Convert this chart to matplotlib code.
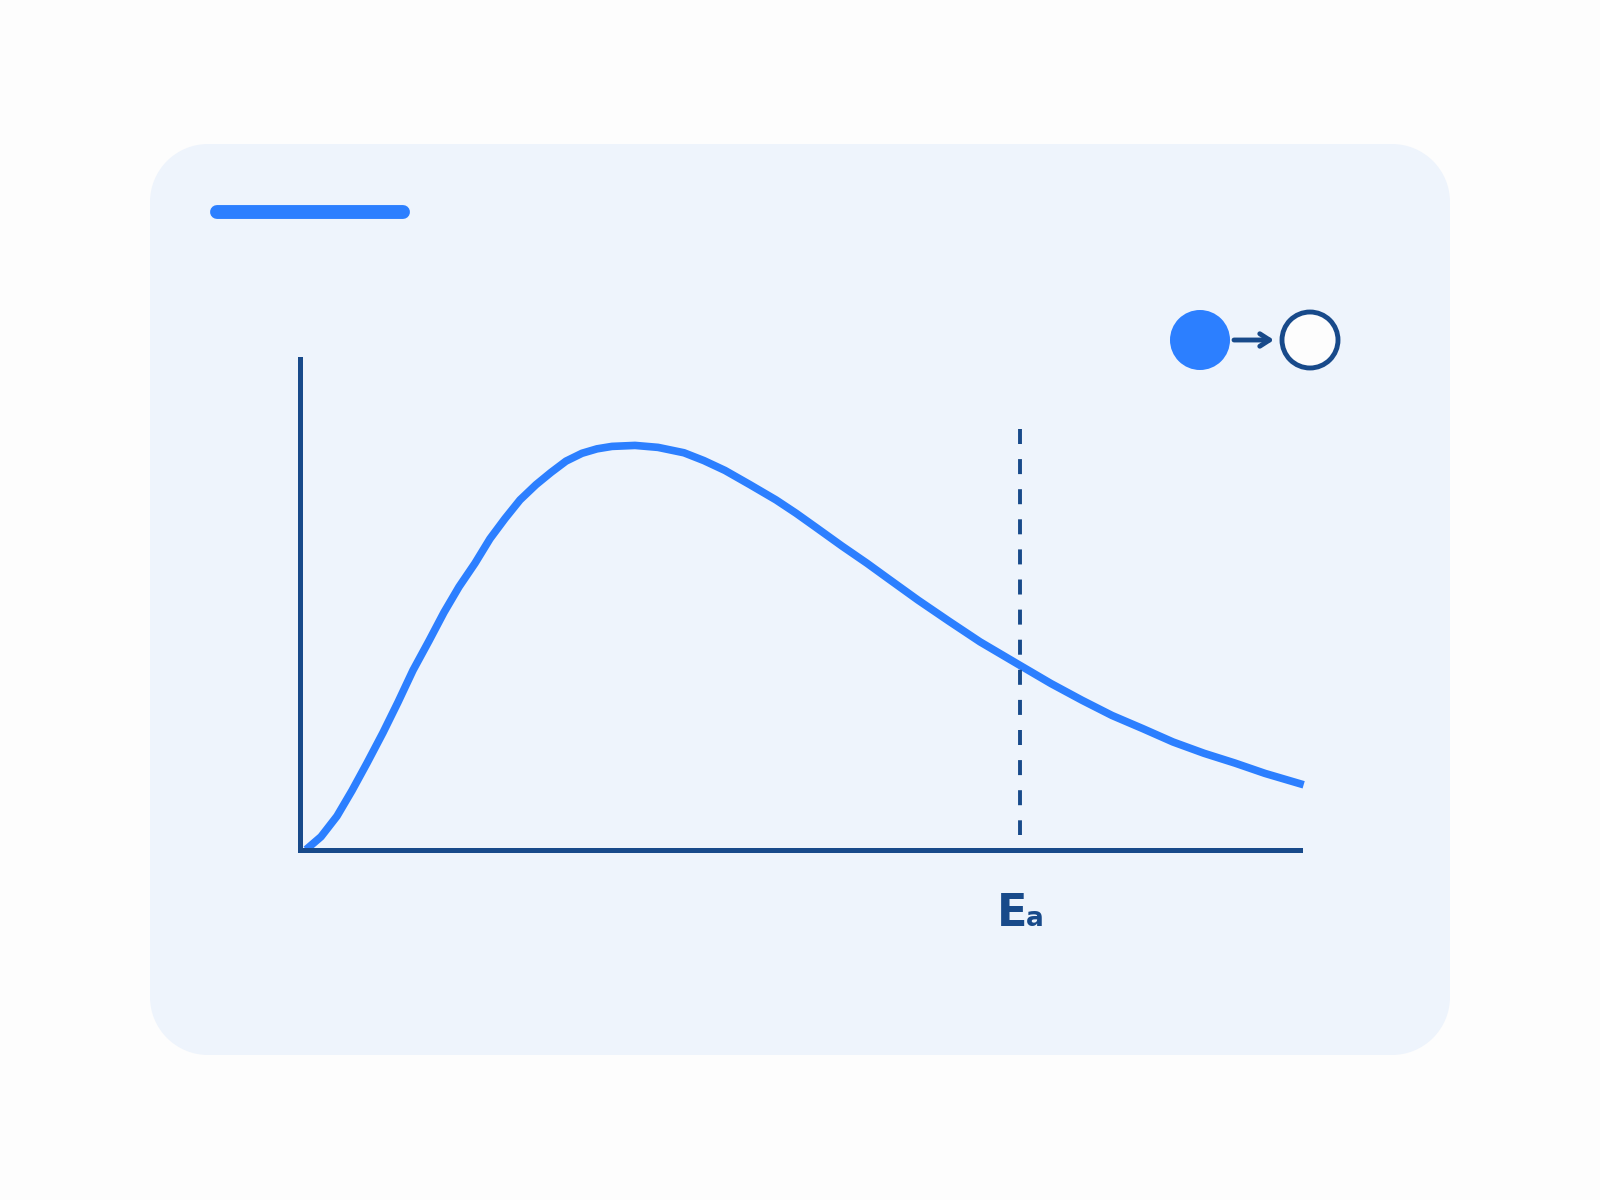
import matplotlib
matplotlib.use("Agg")
import matplotlib.pyplot as plt
from matplotlib.patches import Rectangle, Circle

# energy (fraction of axis length) and distribution height
energy = [0.009, 0.021, 0.037, 0.052, 0.067, 0.083, 0.098, 0.113, 0.129, 0.144,
          0.159, 0.175, 0.190, 0.205, 0.220, 0.236, 0.251, 0.266, 0.282, 0.297,
          0.312, 0.335, 0.358, 0.384, 0.404, 0.425, 0.450, 0.476, 0.496, 0.516,
          0.542, 0.567, 0.588, 0.618, 0.649, 0.680, 0.720, 0.751, 0.782, 0.812,
          0.843, 0.873, 0.904, 0.935, 0.965, 1.000]
fraction = [0.006, 0.027, 0.069, 0.121, 0.177, 0.239, 0.301, 0.366, 0.426, 0.484,
            0.536, 0.584, 0.634, 0.675, 0.713, 0.744, 0.769, 0.792, 0.808, 0.817,
            0.822, 0.824, 0.820, 0.809, 0.793, 0.773, 0.744, 0.713, 0.686, 0.657,
            0.619, 0.584, 0.553, 0.509, 0.466, 0.424, 0.376, 0.339, 0.305, 0.274,
            0.247, 0.220, 0.197, 0.177, 0.156, 0.135]
activation_energy = 0.72
activation_label = ("E", "a")

BLUE = "#2c7fff"
NAVY = "#184a8a"
PANEL = "#eef4fc"

fig = plt.figure(figsize=(16, 12), dpi=100, facecolor="#fdfdfd")

# background layer in pixel coordinates
bg = fig.add_axes([0, 0, 1, 1])
bg.set_xlim(0, 1600)
bg.set_ylim(1200, 0)
bg.axis("off")

# panel with circular corners: two rectangles plus four corner discs
x0, y0, w, h, r = 150, 144, 1300, 911, 58
bg.add_patch(Rectangle((x0 + r, y0), w - 2 * r, h, facecolor=PANEL, lw=0))
bg.add_patch(Rectangle((x0, y0 + r), w, h - 2 * r, facecolor=PANEL, lw=0))
for cx in (x0 + r, x0 + w - r):
    for cy in (y0 + r, y0 + h - r):
        bg.add_patch(Circle((cx, cy), r, facecolor=PANEL, lw=0))

bg.plot([217, 403], [212, 212], color=BLUE, lw=10, solid_capstyle="round")

# reactant -> product icon
bg.add_patch(Circle((1200, 340), 30, facecolor=BLUE, edgecolor="none"))
bg.add_patch(Circle((1310, 340), 28, facecolor="#fdfdfd", edgecolor=NAVY, lw=3.5))
bg.annotate("", xy=(1274, 340), xytext=(1234, 340),
            arrowprops=dict(arrowstyle="->,head_length=0.7,head_width=0.45",
                            color=NAVY, lw=3.5, shrinkA=0, shrinkB=0))

bg.text(997, 926, activation_label[0], fontsize=32, fontweight="bold",
        color=NAVY, ha="left", va="baseline")
bg.text(1026, 926, activation_label[1], fontsize=19, fontweight="bold",
        color=NAVY, ha="left", va="baseline")

# the distribution plot itself
ax = fig.add_axes([300 / 1600, 350 / 1200, 1000 / 1600, 491 / 1200])
ax.set_xlim(0, 1)
ax.set_ylim(0, 1)
ax.patch.set_alpha(0)
for side in ("top", "right"):
    ax.spines[side].set_visible(False)
for side in ("left", "bottom"):
    ax.spines[side].set_color(NAVY)
    ax.spines[side].set_linewidth(3.6)
ax.set_xticks([])
ax.set_yticks([])

ax.plot(energy, fraction, color=BLUE, lw=5.5, clip_on=False,
        solid_joinstyle="round")
# drawn top-down so the dash pattern starts at the top end
ax.plot([activation_energy, activation_energy], [0.858, 0.031], color=NAVY,
        lw=2.8, linestyle=(0, (3.86, 3.88)), clip_on=False)

fig.savefig("out.png", dpi=100, facecolor=fig.get_facecolor())
